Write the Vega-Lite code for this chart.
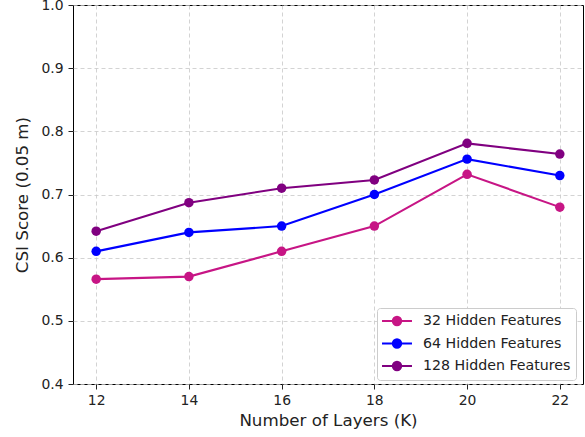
{
  "$schema": "https://vega.github.io/schema/vega-lite/v6.json",
  "width": 510,
  "height": 379,
  "autosize": "none",
  "padding": {"left": 73, "top": 5, "right": 2, "bottom": 53},
  "background": "white",
  "config": {
    "font": "DejaVu Sans",
    "view": {"stroke": "black", "strokeWidth": 1},
    "axis": {
      "labelFont": "DejaVu Sans",
      "titleFont": "DejaVu Sans",
      "labelFontSize": 13.9,
      "titleFontSize": 16.7,
      "titleFontWeight": "normal",
      "labelColor": "#222",
      "titleColor": "#222",
      "tickColor": "#222",
      "tickSize": 5,
      "domain": false,
      "gridColor": "#c8c8c8",
      "gridDash": [4, 3],
      "gridWidth": 0.8,
      "gridOpacity": 1
    }
  },
  "data": {
    "values": [
      {"K": 12, "series": "32 Hidden Features", "csi": 0.566},
      {"K": 14, "series": "32 Hidden Features", "csi": 0.570},
      {"K": 16, "series": "32 Hidden Features", "csi": 0.610},
      {"K": 18, "series": "32 Hidden Features", "csi": 0.650},
      {"K": 20, "series": "32 Hidden Features", "csi": 0.732},
      {"K": 22, "series": "32 Hidden Features", "csi": 0.680},
      {"K": 12, "series": "64 Hidden Features", "csi": 0.610},
      {"K": 14, "series": "64 Hidden Features", "csi": 0.640},
      {"K": 16, "series": "64 Hidden Features", "csi": 0.650},
      {"K": 18, "series": "64 Hidden Features", "csi": 0.700},
      {"K": 20, "series": "64 Hidden Features", "csi": 0.756},
      {"K": 22, "series": "64 Hidden Features", "csi": 0.730},
      {"K": 12, "series": "128 Hidden Features", "csi": 0.642},
      {"K": 14, "series": "128 Hidden Features", "csi": 0.687},
      {"K": 16, "series": "128 Hidden Features", "csi": 0.710},
      {"K": 18, "series": "128 Hidden Features", "csi": 0.723},
      {"K": 20, "series": "128 Hidden Features", "csi": 0.781},
      {"K": 22, "series": "128 Hidden Features", "csi": 0.764}
    ]
  },
  "encoding": {
    "x": {
      "field": "K",
      "type": "quantitative",
      "scale": {"domain": [11.5, 22.5], "nice": false, "zero": false},
      "axis": {"values": [12, 14, 16, 18, 20, 22], "title": "Number of Layers (K)", "labelPadding": 4, "titlePadding": 6}
    },
    "y": {
      "field": "csi",
      "type": "quantitative",
      "scale": {"domain": [0.4, 1.0], "nice": false, "zero": false},
      "axis": {"values": [0.4, 0.5, 0.6, 0.7, 0.8, 0.9, 1.0], "format": ".1f", "title": "CSI Score (0.05 m)", "labelPadding": 5, "titlePadding": 9}
    },
    "color": {
      "field": "series",
      "type": "nominal",
      "sort": ["32 Hidden Features", "64 Hidden Features", "128 Hidden Features"],
      "scale": {
        "domain": ["32 Hidden Features", "64 Hidden Features", "128 Hidden Features"],
        "range": ["#C71585", "#0000FF", "#800080"]
      },
      "legend": {
        "title": null,
        "orient": "none",
        "legendX": 304,
        "legendY": 303,
        "padding": 5,
        "strokeColor": "#cccccc",
        "fillColor": "white",
        "cornerRadius": 3,
        "labelFont": "DejaVu Sans",
        "labelFontSize": 14.2,
        "labelColor": "#222",
        "labelOffset": 25,
        "rowPadding": 4.5,
        "symbolType": "M-1.14,0L3.14,0M0.4,0A0.6,0.6,0,1,0,1.6,0A0.6,0.6,0,1,0,0.4,0Z",
        "symbolSize": 196,
        "symbolStrokeWidth": 2,
        "encode": {
          "symbols": {"update": {"fill": {"scale": "color", "field": "value"}, "stroke": {"scale": "color", "field": "value"}, "fillOpacity": {"value": 1}, "opacity": {"value": 1}}}
        }
      }
    }
  },
  "layer": [
    {"mark": {"type": "line", "strokeWidth": 2.1}},
    {"mark": {"type": "point", "shape": "circle", "filled": true, "size": 90, "opacity": 1}}
  ]
}
